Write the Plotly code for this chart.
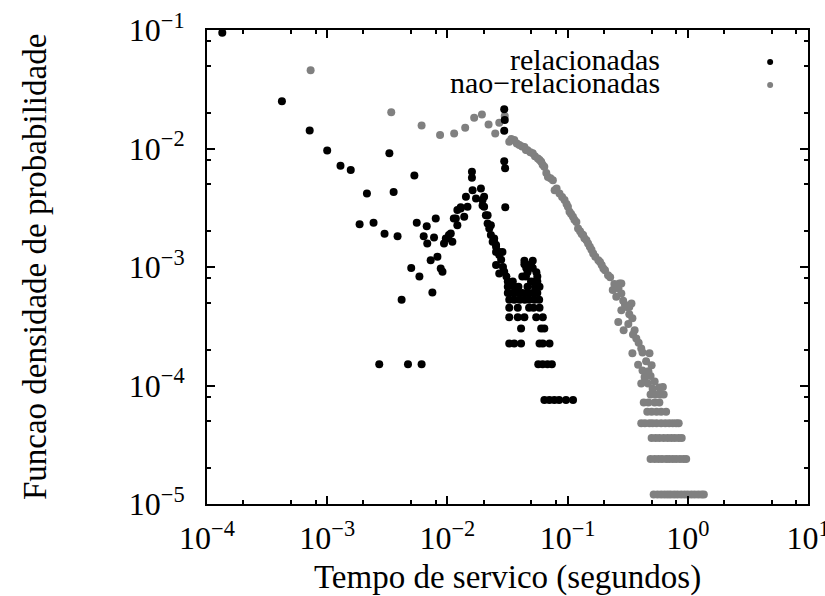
import plotly.graph_objects as go

# ---------------- data ----------------
# "relacionadas" (black) – scattered points
rel_x = [1.34e-4, 4.2e-4, 7.15e-4, 1.0e-3, 1.29e-3, 1.57e-3, 3.29e-3, 5.31e-3,
         2.14e-3, 3.57e-3, 1.86e-3, 2.43e-3, 3.0e-3, 3.85e-3, 5.56e-3, 6.35e-3,
         5.0e-3, 5.85e-3, 4.16e-3, 2.71e-3, 4.7e-3, 6.1e-3,
         6.73e-3, 7.74e-3, 8.0e-3, 9.37e-3, 0.0100, 0.01067, 0.0110, 0.01175,
         0.0121, 0.0129, 0.0138, 0.01426, 0.0147, 0.0160, 0.0160, 0.0162,
         0.0173, 0.0190, 0.0196, 0.0202, 0.0209, 0.0216, 0.0223, 0.0230,
         0.0245, 0.0254,
         6.8e-3, 8.26e-3, 7.26e-3, 8.8e-3, 9.1e-3, 7.5e-3,
         0.0113, 0.0202, 0.0196, 0.0216, 0.0230, 0.0245, 0.0254, 0.0270,
         0.0287, 0.0129, 0.0121, 0.0097, 0.0103,
         0.0297, 0.0300, 0.0297, 0.0297, 0.0302, 0.0303,
         0.0238, 0.0254, 0.0270, 0.0254, 0.0297, 0.0270, 0.0318, 0.0350,
         0.0318, 0.0360, 0.0280, 0.0290, 0.0310,
         0.0437, 0.0513, 0.0437, 0.0513, 0.0464, 0.0560, 0.0420, 0.0496,
         0.0560, 0.0464, 0.0584, 0.0532, 0.0453, 0.0496, 0.0390, 0.0535,
         0.0550, 0.0450]
rel_y = [0.095, 0.0251, 0.0142, 0.00964, 0.00715, 0.0066, 0.00914, 0.00593,
         0.00418, 0.0043, 0.00229, 0.00236, 0.00191, 0.00182, 0.00236, 0.00182,
         9.8e-4, 8.3e-4, 5.3e-4, 1.51e-4, 1.51e-4, 1.51e-4,
         0.00221, 0.00177, 0.00257, 0.00158, 0.00174, 0.00192, 0.00163, 0.00257,
         0.00225, 0.00312, 0.00265, 0.00391, 0.00322, 0.00636, 0.00566, 0.00445,
         0.00379, 0.0046, 0.00367, 0.00322, 0.00274, 0.00233, 0.00211, 0.00186,
         0.00163, 0.00148,
         0.00158, 0.00122, 0.00114, 9.7e-4, 9.1e-4, 6.1e-4,
         0.00257, 0.00391, 0.0033, 0.00274, 0.00225, 0.00174, 0.00153, 0.00134,
         0.00134, 0.0032, 0.00302, 0.00174, 0.00186,
         0.0214, 0.0174, 0.0141, 0.0078, 0.0068, 0.0032,
         0.00163, 0.00134, 0.00126, 0.00104, 9.1e-4, 8.8e-4, 7.54e-4, 7.54e-4,
         6.8e-4, 6.8e-4, 0.00115, 0.00100, 8.3e-4,
         1.13e-3, 1.13e-3, 1.056e-3, 9.8e-4, 9.05e-4, 8.3e-4, 8.3e-4, 7.54e-4,
         7.54e-4, 6.8e-4, 6.8e-4, 7.54e-4, 9.8e-4, 1.056e-3, 6.8e-4, 6.8e-4,
         9.05e-4, 8.3e-4]

# "relacionadas" – rows at discrete density levels
rel_row_levels = [6.03e-4, 5.28e-4, 4.52e-4, 3.77e-4, 3.02e-4, 2.26e-4, 1.51e-4, 7.54e-5]
rel_row_x = [
    [0.0318, 0.0350, 0.0385, 0.0420, 0.0464, 0.0510, 0.0560],
    [0.0327, 0.0360, 0.0400, 0.0440, 0.0480, 0.0530, 0.0580],
    [0.0327, 0.0385, 0.0478, 0.0520, 0.0584],
    [0.0327, 0.0385, 0.0437, 0.0548, 0.0622],
    [0.0410, 0.0603, 0.0640],
    [0.0327, 0.0360, 0.0410, 0.0584, 0.0622, 0.0707],
    [0.0570, 0.0620, 0.0680, 0.0740],
    [0.0641, 0.0705, 0.0775, 0.0850, 0.0970, 0.1110],
]

# "nao-relacionadas" (gray) – scattered points
nrel_x = [7.28e-4, 3.41e-3, 6.1e-3, 8.69e-3, 0.01138, 0.01406, 0.0167, 0.01937,
          0.0220, 0.0250, 0.0270, 0.0300,
          0.0327, 0.0340, 0.0360, 0.0378, 0.0397, 0.0418, 0.0437, 0.0450,
          0.0464, 0.0490, 0.0513, 0.0535, 0.0566, 0.0585, 0.0603, 0.0620,
          0.0640, 0.0665, 0.0686, 0.0720, 0.0754, 0.0780, 0.0810, 0.0856,
          0.0900, 0.0943, 0.0980, 0.1006, 0.1037, 0.1070, 0.1108, 0.1140,
          0.1183, 0.1222, 0.1270, 0.1310, 0.1347, 0.1380, 0.1434, 0.1480,
          0.1531, 0.1580, 0.1634, 0.1700, 0.1802, 0.1860, 0.1921, 0.1985,
          0.2048, 0.2170, 0.2260, 0.2375, 0.2450, 0.2540, 0.2650, 0.2800,
          0.2800, 0.2900, 0.3000, 0.3100, 0.3260, 0.3400, 0.2800, 0.2640,
          0.3460, 0.2925, 0.3200, 0.3610, 0.3730, 0.3500, 0.3900, 0.4100,
          0.3460, 0.4800, 0.4200, 0.3860, 0.5000, 0.4200, 0.4370, 0.4500,
          0.4670, 0.4100, 0.5100, 0.5800, 0.4400, 0.4900, 0.4700, 0.5300,
          0.2700, 0.3260, 0.6200]
nrel_y = [0.0457, 0.0202, 0.0156, 0.0130, 0.0134, 0.01496, 0.01816, 0.0194,
          0.01596, 0.0134, 0.0165, 0.0188,
          0.0114, 0.0120, 0.01178, 0.0110, 0.0107, 0.0104, 0.0103, 0.0097,
          0.00968, 0.0093, 0.0091, 0.0086, 0.00824, 0.0080, 0.00772, 0.0073,
          0.0070, 0.0062, 0.00576, 0.0056, 0.0054, 0.00445, 0.0046, 0.00418,
          0.0039, 0.00367, 0.0034, 0.00322, 0.00292, 0.0028, 0.00265, 0.0025,
          0.0024, 0.00211, 0.0020, 0.0019, 0.00186, 0.00175, 0.00168, 0.00158,
          0.00148, 0.0014, 0.0013, 0.00122, 0.00114, 0.0011, 0.00104, 0.00097,
          0.00094, 0.00085, 0.00082, 0.00064, 0.00072, 0.00056, 0.00066, 0.000726,
          0.000598, 0.00052, 0.00048, 0.00046, 0.00040, 0.000492, 0.000432, 0.000344,
          0.00037, 0.000292, 0.00033, 0.000292, 0.000249, 0.00027, 0.00023, 0.000205,
          0.000187, 0.000187, 0.00019, 0.00015, 0.000148, 0.000134, 0.000118, 0.00016,
          0.000104, 0.000104, 0.000094, 0.000096, 0.000108, 0.00012, 0.000132, 0.000108,
          0.000726, 0.00046, 0.000097]

# "nao-relacionadas" – rows at discrete density levels
nrel_row_levels = [8.4e-5, 7.2e-5, 6.0e-5, 4.8e-5, 3.6e-5, 2.4e-5, 1.2e-5]
nrel_row_x = [
    [0.49, 0.54, 0.59, 0.63],
    [0.43, 0.47, 0.53, 0.58],
    [0.46, 0.50, 0.55, 0.60, 0.66],
    [0.41, 0.44, 0.48, 0.51, 0.55, 0.60, 0.65, 0.70, 0.75, 0.80, 0.84],
    [0.50, 0.54, 0.58, 0.63, 0.68, 0.73, 0.78, 0.84, 0.89],
    [0.49, 0.53, 0.57, 0.61, 0.66, 0.70, 0.75, 0.80, 0.86, 0.92, 0.97],
    [0.52, 0.56, 0.60, 0.64, 0.68, 0.72, 0.77, 0.82, 0.88, 0.94, 1.00,
     1.07, 1.14, 1.22, 1.30, 1.36],
]

x_tickvals = [1e-4, 1e-3, 1e-2, 1e-1, 1e0, 1e1]
x_ticktext = ["10<sup>−4</sup>", "10<sup>−3</sup>", "10<sup>−2</sup>",
              "10<sup>−1</sup>", "10<sup>0</sup>", "10<sup>1</sup>"]
y_tickvals = [1e-5, 1e-4, 1e-3, 1e-2, 1e-1]
y_ticktext = ["10<sup>−5</sup>", "10<sup>−4</sup>", "10<sup>−3</sup>",
              "10<sup>−2</sup>", "10<sup>−1</sup>"]
minor_mult = [2, 5, 8]

x_title = "Tempo de servico (segundos)"
y_title = "Funcao densidade de probabilidade"
series_names = ["relacionadas", "nao−relacionadas"]
series_colors = ["#000000", "#808080"]

# ---------------- build ----------------
def expand(xs, ys, row_levels, row_x):
    ax, ay = list(xs), list(ys)
    for lvl, rx in zip(row_levels, row_x):
        ax += rx
        ay += [lvl] * len(rx)
    return ax, ay

rx_all, ry_all = expand(rel_x, rel_y, rel_row_levels, rel_row_x)
nx_all, ny_all = expand(nrel_x, nrel_y, nrel_row_levels, nrel_row_x)

FONT = "Liberation Serif, Times New Roman, serif"
FS_TICK = 32
FS_TITLE = 33
FS_LEG = 30

fig = go.Figure()
fig.add_trace(go.Scatter(x=nx_all, y=ny_all, mode="markers", name=series_names[1],
                         marker=dict(color=series_colors[1], size=8, line=dict(width=0))))
fig.add_trace(go.Scatter(x=rx_all, y=ry_all, mode="markers", name=series_names[0],
                         marker=dict(color=series_colors[0], size=8, line=dict(width=0))))

def minor_vals(lo, hi):
    out = []
    for e in range(lo, hi):
        for m in minor_mult:
            out.append(m * 10.0 ** e)
    return out

axis_common = dict(type="log", showgrid=False, zeroline=False, showline=True,
                   linecolor="black", linewidth=2, mirror="allticks", automargin=False,
                   ticks="inside", ticklen=8, tickwidth=1.5, tickcolor="black",
                   ticklabeloverflow="allow",
                   tickfont=dict(family=FONT, size=FS_TICK, color="black"))

fig.update_xaxes(range=[-4, 1], tickmode="array", tickvals=x_tickvals, ticktext=x_ticktext,
                 ticklabelstandoff=5,
                 minor=dict(tickmode="array", tickvals=minor_vals(-4, 1), ticks="inside",
                            ticklen=4, tickwidth=1.5, tickcolor="black", showgrid=False),
                 **axis_common)
fig.update_yaxes(range=[-5, -1], tickmode="array", tickvals=y_tickvals, ticktext=y_ticktext,
                 ticklabelstandoff=14,
                 minor=dict(tickmode="array", tickvals=minor_vals(-5, -1), ticks="inside",
                            ticklen=4, tickwidth=1.5, tickcolor="black", showgrid=False),
                 **axis_common)

# axis titles
fig.add_annotation(xref="paper", yref="paper", x=0.5, y=-0.156, text=x_title,
                   showarrow=False, xanchor="center", yanchor="middle",
                   font=dict(family=FONT, size=FS_TITLE, color="black"))
fig.add_annotation(xref="paper", yref="paper", x=-0.286, y=0.5, text=y_title,
                   showarrow=False, xanchor="center", yanchor="middle", textangle=-90,
                   font=dict(family=FONT, size=FS_TITLE, color="black"))

# legend drawn gnuplot-style: text right-aligned, key symbol to the right
legend_y = [0.9325, 0.884]
for name, col, ly in zip(series_names, series_colors, legend_y):
    fig.add_annotation(xref="paper", yref="paper", x=0.757, y=ly + 0.006, text=name,
                       showarrow=False, xanchor="right", yanchor="middle",
                       font=dict(family=FONT, size=FS_LEG, color="black"))
    fig.add_shape(type="circle", xref="paper", yref="paper", xsizemode="pixel",
                  ysizemode="pixel", xanchor=0.937, yanchor=ly, x0=-3, x1=3, y0=-3, y1=3,
                  fillcolor=col, line=dict(width=0))

fig.update_layout(width=825, height=596, showlegend=False,
                  margin=dict(l=207, r=17, t=30, b=92),
                  paper_bgcolor="white", plot_bgcolor="white",
                  font=dict(family=FONT, size=FS_TICK, color="black"))

fig.write_html("out.html")
